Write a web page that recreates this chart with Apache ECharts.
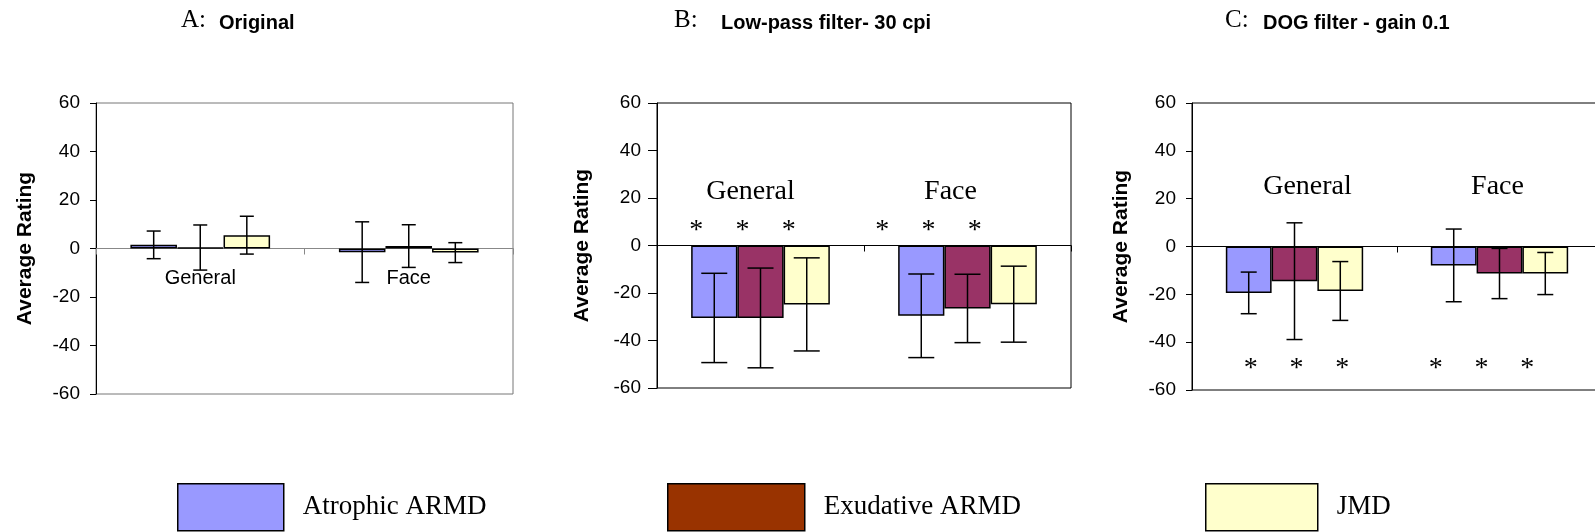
<!DOCTYPE html>
<html>
<head>
<meta charset="utf-8">
<script src="https://cdn.jsdelivr.net/npm/echarts@6/dist/echarts.min.js"></script>
<style>
  html, body { margin: 0; padding: 0; background: #fff; }
  #chart { width: 1595px; height: 532px; }
</style>
</head>
<body>
<div id="chart"></div>
<script>
const categories = ["General", "Face"];
const groups = ["Atrophic ARMD", "Exudative ARMD", "JMD"];

// mean rating per group, [General, Face]
const originalMeans = [[1.5, -1.5], [0.4, 1.0], [5.5, -1.7]];
const lowPassMeans = [[-30.5, -29.6], [-30.5, -26.5], [-24.8, -24.7]];
const dogMeans = [[-19.4, -7.9], [-14.5, -11.3], [-18.6, -11.3]];

// half length of the error bars, same layout
const originalErrors = [[5.7, 12.5], [9.3, 8.8], [7.8, 4.1]];
const lowPassErrors = [[18.8, 17.6], [21.0, 14.4], [19.6, 16.0]];
const dogErrors = [[8.7, 15.2], [24.4, 10.5], [12.3, 8.8]];

// rating where the significance stars sit
const lowPassStar = 8;
const dogStar = -49.5;

const yMin = -60;
const yMax = 60;
const yStep = 20;

const sans = "'Liberation Sans', Arial, sans-serif";
const serif = "'Liberation Serif', 'Times New Roman', serif";
const barColors = ["#9999ff", "#993366", "#ffffcc"];
const legendColors = ["#9999ff", "#993300", "#ffffcc"];
const catGap = 0.33;

const panels = [
  {
    letter: "A:", title: "Original", means: originalMeans, errors: originalErrors, star: null,
    grid: { left: 96, top: 103, width: 417, height: 291 },
    letterLeft: 181, titleLeft: 219, cap: 14, tickLen: 6, nameGap: 60,
    frame: "#777", zero: "#888",
    labelY: -12.2, labelShift: [0, 0], labelFont: `20px ${sans}`,
  },
  {
    letter: "B:", title: "Low-pass filter- 30 cpi", means: lowPassMeans, errors: lowPassErrors, star: lowPassStar,
    grid: { left: 657, top: 103, width: 414, height: 285 },
    letterLeft: 674, titleLeft: 721, cap: 26, tickLen: 9, nameGap: 64,
    frame: "#000", zero: "#000",
    labelY: 22.6, labelShift: [-10, -17], labelFont: `28px ${serif}`, starShift: [-18, -39],
  },
  {
    letter: "C:", title: "DOG filter - gain 0.1", means: dogMeans, errors: dogErrors, star: dogStar,
    grid: { left: 1192, top: 103, width: 410, height: 287 },
    letterLeft: 1225, titleLeft: 1263, cap: 16, tickLen: 6, nameGap: 60,
    frame: "#000", zero: "#000",
    labelY: 25, labelShift: [13, -2], labelFont: `28px ${serif}`, starShift: [2, -18],
  },
];

const legendBoxes = [
  { left: 177, width: 106 },
  { left: 667, width: 137 },
  { left: 1205, width: 112 },
];

function slotX(api, k, slot) {
  const band = api.size([1, 0])[0];
  const bw = band * (1 - catGap) / 3;
  return api.coord([k, 0])[0] + (slot - 1) * bw;
}

function errorBar(slot, cap) {
  return function (params, api) {
    const k = api.value(0);
    const mean = api.value(1);
    const err = api.value(2);
    const x = slotX(api, k, slot);
    const top = api.coord([k, mean + err])[1];
    const bottom = api.coord([k, mean - err])[1];
    const style = { stroke: "#000", lineWidth: 1.5 };
    return {
      type: "group",
      children: [
        { type: "line", shape: { x1: x, y1: top, x2: x, y2: bottom }, style },
        { type: "line", shape: { x1: x - cap / 2, y1: top, x2: x + cap / 2, y2: top }, style },
        { type: "line", shape: { x1: x - cap / 2, y1: bottom, x2: x + cap / 2, y2: bottom }, style },
      ],
    };
  };
}

const option = {
  animation: false,
  title: [],
  legend: [],
  grid: [],
  xAxis: [],
  yAxis: [],
  series: [],
};

panels.forEach((p, i) => {
  option.title.push({
    text: p.letter, left: p.letterLeft, top: 8, padding: 0,
    textStyle: { fontFamily: serif, fontSize: 25, fontWeight: "normal", color: "#000" },
  });
  option.title.push({
    text: p.title, left: p.titleLeft, top: 13, padding: 0,
    textStyle: { fontFamily: sans, fontSize: 20, fontWeight: "bold", color: "#000" },
  });
  option.grid.push(Object.assign({
    show: true, borderColor: p.frame, borderWidth: 1,
    containLabel: false, outerBoundsMode: "none",
  }, p.grid));
  option.xAxis.push({
    type: "category", gridIndex: i, data: categories,
    axisLine: { onZero: true, lineStyle: { color: p.zero, width: 1 } },
    axisTick: { show: true, length: 6, lineStyle: { color: p.zero } },
    axisLabel: { show: false },
    splitLine: { show: false },
  });
  option.yAxis.push({
    type: "value", gridIndex: i, min: yMin, max: yMax, interval: yStep,
    name: "Average Rating", nameLocation: "middle", nameGap: p.nameGap,
    nameTextStyle: { fontFamily: sans, fontSize: 21, fontWeight: "bold", color: "#000" },
    axisLine: { show: true, lineStyle: { color: "#000" } },
    axisTick: { show: true, length: p.tickLen, lineStyle: { color: "#000" } },
    axisLabel: { margin: 16, fontFamily: sans, fontSize: 19, color: "#000" },
    splitLine: { show: false },
  });

  groups.forEach((g, s) => {
    option.series.push({
      type: "bar", name: g, xAxisIndex: i, yAxisIndex: i, data: p.means[s],
      barGap: "0%", barCategoryGap: "33%",
      itemStyle: { color: barColors[s], borderColor: "#000", borderWidth: 1.5 },
      emphasis: { disabled: true },
    });
  });
  groups.forEach((g, s) => {
    option.series.push({
      type: "custom", xAxisIndex: i, yAxisIndex: i, z: 10, silent: true,
      data: categories.map((c, k) => [k, p.means[s][k], p.errors[s][k]]),
      renderItem: errorBar(s, p.cap),
    });
  });

  // category names written inside the plot
  option.series.push({
    type: "custom", xAxisIndex: i, yAxisIndex: i, z: 11, silent: true,
    data: categories.map((c, k) => [k, p.labelY]),
    renderItem: function (params, api) {
      const k = params.dataIndex;
      const pt = api.coord([k, api.value(1)]);
      return {
        type: "text",
        style: {
          text: categories[k], x: pt[0] + p.labelShift[k], y: pt[1],
          align: "center", verticalAlign: "middle", textAlign: "center", textVerticalAlign: "middle",
          font: p.labelFont, fill: "#000",
        },
      };
    },
  });

  if (p.star !== null) {
    const starData = [];
    categories.forEach((c, k) => groups.forEach((g, s) => starData.push([k, s, p.star])));
    option.series.push({
      type: "custom", xAxisIndex: i, yAxisIndex: i, z: 11, silent: true,
      data: starData,
      renderItem: function (params, api) {
        const k = api.value(0);
        const s = api.value(1);
        const y = api.coord([k, api.value(2)])[1];
        return {
          type: "text",
          style: {
            text: "*", x: slotX(api, k, s) + p.starShift[k], y: y + 4,
            align: "center", verticalAlign: "middle", textAlign: "center", textVerticalAlign: "middle",
            font: `28px ${serif}`, fill: "#000",
          },
        };
      },
    });
  }
});

groups.forEach((g, s) => {
  option.legend.push({
    data: [{ name: g, itemStyle: { color: legendColors[s], borderColor: "#000", borderWidth: 1.5 } }],
    left: legendBoxes[s].left, top: 483, padding: 0,
    itemWidth: legendBoxes[s].width, itemHeight: 47, icon: "rect", selectedMode: false,
    textStyle: { fontFamily: serif, fontSize: 27, color: "#000", padding: [6, 0, 0, 14] },
  });
});

const chart = echarts.init(document.getElementById("chart"));
chart.setOption(option);
</script>
</body>
</html>
